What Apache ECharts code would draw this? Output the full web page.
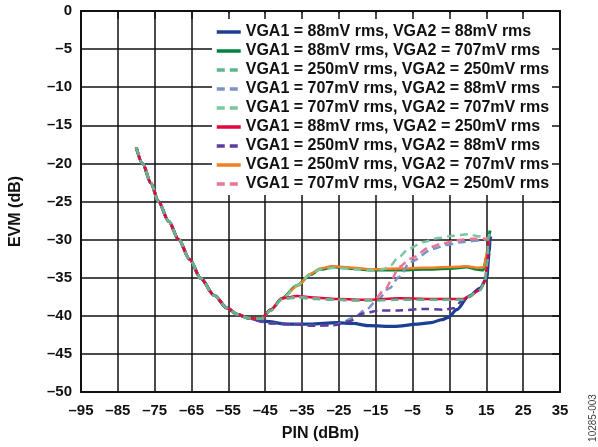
<!DOCTYPE html>
<html>
<head>
<meta charset="utf-8">
<script src="https://cdn.jsdelivr.net/npm/echarts@6/dist/echarts.min.js"></script>
<style>
html,body{margin:0;padding:0;background:#fff;}
#chart{width:598px;height:447px;}
</style>
</head>
<body>
<div id="chart"></div>
<script>
// ---- data ----
var seriesNames = [
  'VGA1 = 88mV rms, VGA2 = 88mV rms',
  'VGA1 = 88mV rms, VGA2 = 707mV rms',
  'VGA1 = 250mV rms, VGA2 = 250mV rms',
  'VGA1 = 707mV rms, VGA2 = 88mV rms',
  'VGA1 = 707mV rms, VGA2 = 707mV rms',
  'VGA1 = 88mV rms, VGA2 = 250mV rms',
  'VGA1 = 250mV rms, VGA2 = 88mV rms',
  'VGA1 = 250mV rms, VGA2 = 707mV rms',
  'VGA1 = 707mV rms, VGA2 = 250mV rms'
];
// common descending part (PIN dBm, EVM dB)
var descent = [[-80,-17.9],[-78.3,-20],[-76,-22.6],[-74,-25],[-71.2,-27.6],[-68.5,-30],[-65.5,-32.6],[-62.5,-35.1],[-58.9,-37.3],[-55.3,-39],[-52.6,-39.8],[-49.7,-40.3]];
var tail88_88 = [[-45.3,-40.7],[-39,-41.1],[-32.8,-41.1],[-25.6,-40.9],[-21.2,-41],[-16.7,-41.3],[-10,-41.4],[-3.7,-41.1],[0,-40.9],[3,-40.5],[4.7,-40.2],[7,-39.2],[10.1,-37.5],[13.3,-36.4],[15.1,-35.1],[15.8,-31.6],[16,-30],[16.2,-29.6]];
var tail88_707 = [[-46.2,-40.4],[-43.5,-39.2],[-40.4,-37.7],[-36.3,-36.0],[-32.8,-34.6],[-30.1,-33.9],[-26.5,-33.6],[-21.2,-33.8],[-16.7,-34],[-8.7,-34],[-2,-33.9],[5.2,-33.8],[9.7,-33.6],[12.4,-33.9],[14.2,-34],[15.2,-32],[15.5,-30],[16,-28.8]];
var tail250_250 = [[-46.2,-40.4],[-43.5,-39.3],[-40.4,-37.8],[-36.3,-37.6],[-31.9,-37.8],[-25.6,-37.9],[-16.7,-38],[-8.7,-37.9],[2.5,-37.9],[8.8,-37.9],[10.1,-37.5],[13.3,-36.6],[14.6,-35.5],[15.3,-33],[15.5,-30],[15.8,-29.5]];
var tail707_88 = [[-45.3,-40.8],[-43.6,-41],[-38.2,-41.1],[-32,-41.3],[-27,-41.3],[-24.7,-41],[-21.2,-40.3],[-17.6,-39.2],[-14.9,-38.1],[-11.3,-36.4],[-8.7,-34.9],[-5.6,-32.9],[0.7,-31.2],[4,-30.7],[8.8,-30.3],[15.1,-30],[15.8,-29.8]];
var tail707_707 = [[-46.2,-40.4],[-43.5,-39.3],[-40.4,-37.8],[-36.3,-36.0],[-32.8,-34.6],[-30,-33.9],[-26,-33.7],[-21,-33.9],[-16,-34],[-13,-33.9],[-11,-33.4],[-9,-32.4],[-6,-31.2],[-2,-30.3],[2,-29.8],[6,-29.5],[10,-29.3],[13.3,-29.6],[15.5,-29.9],[16,-29]];
var tail88_250 = [[-46.2,-40.4],[-43.5,-39.2],[-40.4,-37.7],[-36.3,-37.4],[-31.9,-37.6],[-25.6,-37.8],[-16.7,-37.9],[-8.7,-37.7],[2.5,-37.8],[8.8,-37.8],[10.1,-37.5],[13.3,-36.6],[14.6,-35.5],[15.3,-33],[15.5,-30],[15.8,-29.8]];
var tail250_88 = [[-45.3,-40.8],[-43.6,-41],[-38.2,-41.1],[-32,-41.3],[-26,-41.2],[-22.1,-40.7],[-18.5,-39.7],[-14,-39.3],[-8.7,-39.3],[-2,-39.1],[3.4,-39.2],[6.1,-39],[8.8,-37.9],[10.7,-37.3],[13.3,-36.5],[14.8,-35.3],[15.5,-32],[15.8,-30]];
var tail250_707 = [[-46.2,-40.4],[-43.6,-39.3],[-40.5,-37.8],[-36.3,-36.1],[-32.8,-34.5],[-30,-33.8],[-27,-33.5],[-21,-33.7],[-16.7,-33.9],[-8.7,-33.8],[-2,-33.7],[5.2,-33.6],[9.7,-33.5],[12.4,-33.7],[14.4,-33.6],[15.3,-31.5],[15.6,-30.2]];
var tail707_250 = [[-46.2,-40.4],[-43.5,-39.3],[-40.4,-37.8],[-36.3,-37.5],[-31.9,-37.7],[-25.6,-37.9],[-20,-38],[-15.5,-37.9],[-12.2,-36.4],[-11,-35.5],[-8.7,-33.6],[-5.6,-32.5],[-0.2,-31],[3,-30.5],[7,-30.1],[11,-29.9],[15.1,-29.9],[15.8,-29.6]];
var tails = [tail88_88, tail88_707, tail250_250, tail707_88, tail707_707, tail88_250, tail250_88, tail250_707, tail707_250];

var colors = ['#1c3f94','#00843d','#5cb88a','#7b93c6','#79c6a0','#e2063c','#5a3d9e','#f57f20','#e97591'];
var dashed = [false,false,true,true,true,false,true,false,true];
var widths = [3.2,3,2.5,2.5,2.5,2.5,2.5,2.5,2.5];
var zs = [3,2,7,4,5,5,4,3,6];

var xTicks = {min:-95, max:35, interval:10};
var yTicks = {min:-50, max:0, interval:5};

function dash(v){ return String(v).replace('-', '\u2013'); }
var FONT = '"Liberation Sans", Arial, sans-serif';

var chart = echarts.init(document.getElementById('chart'), null, {renderer:'canvas'});
var series = seriesNames.map(function(n, i){
  return {
    name: n, type: 'line', xAxisIndex: 0, yAxisIndex: 0,
    data: descent.concat(tails[i]),
    showSymbol: false, symbol: 'none',
    smooth: 0.3, smoothMonotone: 'x',
    z: zs[i],
    lineStyle: {color: colors[i], width: widths[i], type: dashed[i] ? [8,5] : 'solid'},
    itemStyle: {color: colors[i]}
  };
});

chart.setOption({
  animation: false,
  backgroundColor: '#fff',
  grid: {left: 80, right: 38, top: 11, bottom: 53, containLabel: false},
  legend: {
    show: true,
    orient: 'vertical', left: 212, top: 13,
    padding: [11, 14, 3, 3],
    backgroundColor: '#fff',
    itemWidth: 24, itemHeight: 14, itemGap: 3,
    z: 3,
    itemStyle: {opacity: 0, borderWidth: 0},
    lineStyle: {width: 3.5},
    textStyle: {fontFamily: FONT, fontWeight: 'bold', fontSize: 16, color: '#111', lineHeight: 16},
    data: seriesNames.slice()
  },
  xAxis: [{
    type: 'value', position: 'bottom', min: xTicks.min, max: xTicks.max, interval: xTicks.interval,
    name: 'PIN (dBm)', nameLocation: 'middle', nameGap: 34,
    nameTextStyle: {fontFamily: FONT, fontWeight: 'bold', fontSize: 16, color: '#111'},
    axisLine: {show: true, onZero: false, lineStyle: {color: '#111', width: 2}},
    axisTick: {show: false},
    axisLabel: {formatter: dash, margin: 11, fontFamily: FONT, fontWeight: 'bold', fontSize: 15, color: '#111'},
    splitLine: {show: true, lineStyle: {color: '#111', width: 1.5}}
  }, {
    type: 'value', position: 'top', min: xTicks.min, max: xTicks.max, interval: xTicks.interval,
    z: 10,
    axisLine: {show: true, onZero: false, lineStyle: {color: '#111', width: 2}},
    axisTick: {show: true, inside: true, length: 8, lineStyle: {color: '#111', width: 1.5}},
    axisLabel: {show: false}, splitLine: {show: false}
  }],
  yAxis: [{
    type: 'value', position: 'left', min: yTicks.min, max: yTicks.max, interval: yTicks.interval,
    name: 'EVM (dB)', nameLocation: 'middle', nameGap: 57, nameRotate: 90,
    nameTextStyle: {fontFamily: FONT, fontWeight: 'bold', fontSize: 16, color: '#111', padding: [0, 20, 0, 0]},
    axisLine: {show: true, onZero: false, lineStyle: {color: '#111', width: 2}},
    axisTick: {show: false},
    axisLabel: {formatter: dash, margin: 9, fontFamily: FONT, fontWeight: 'bold', fontSize: 15, color: '#111'},
    splitLine: {show: true, lineStyle: {color: '#111', width: 1.5}}
  }, {
    type: 'value', position: 'right', min: yTicks.min, max: yTicks.max, interval: yTicks.interval,
    z: 10,
    axisLine: {show: true, onZero: false, lineStyle: {color: '#111', width: 2}},
    axisTick: {show: true, inside: true, length: 8, lineStyle: {color: '#111', width: 1.5}},
    axisLabel: {show: false}, splitLine: {show: false}
  }],
  graphic: [{
    type: 'text', x: 593, y: 418, rotation: Math.PI / 2, z: 10,
    style: {text: '10285-003', fontFamily: FONT, fontSize: 10, fill: '#444', align: 'center', verticalAlign: 'middle'}
  }],
  series: series
});
</script>
</body>
</html>
